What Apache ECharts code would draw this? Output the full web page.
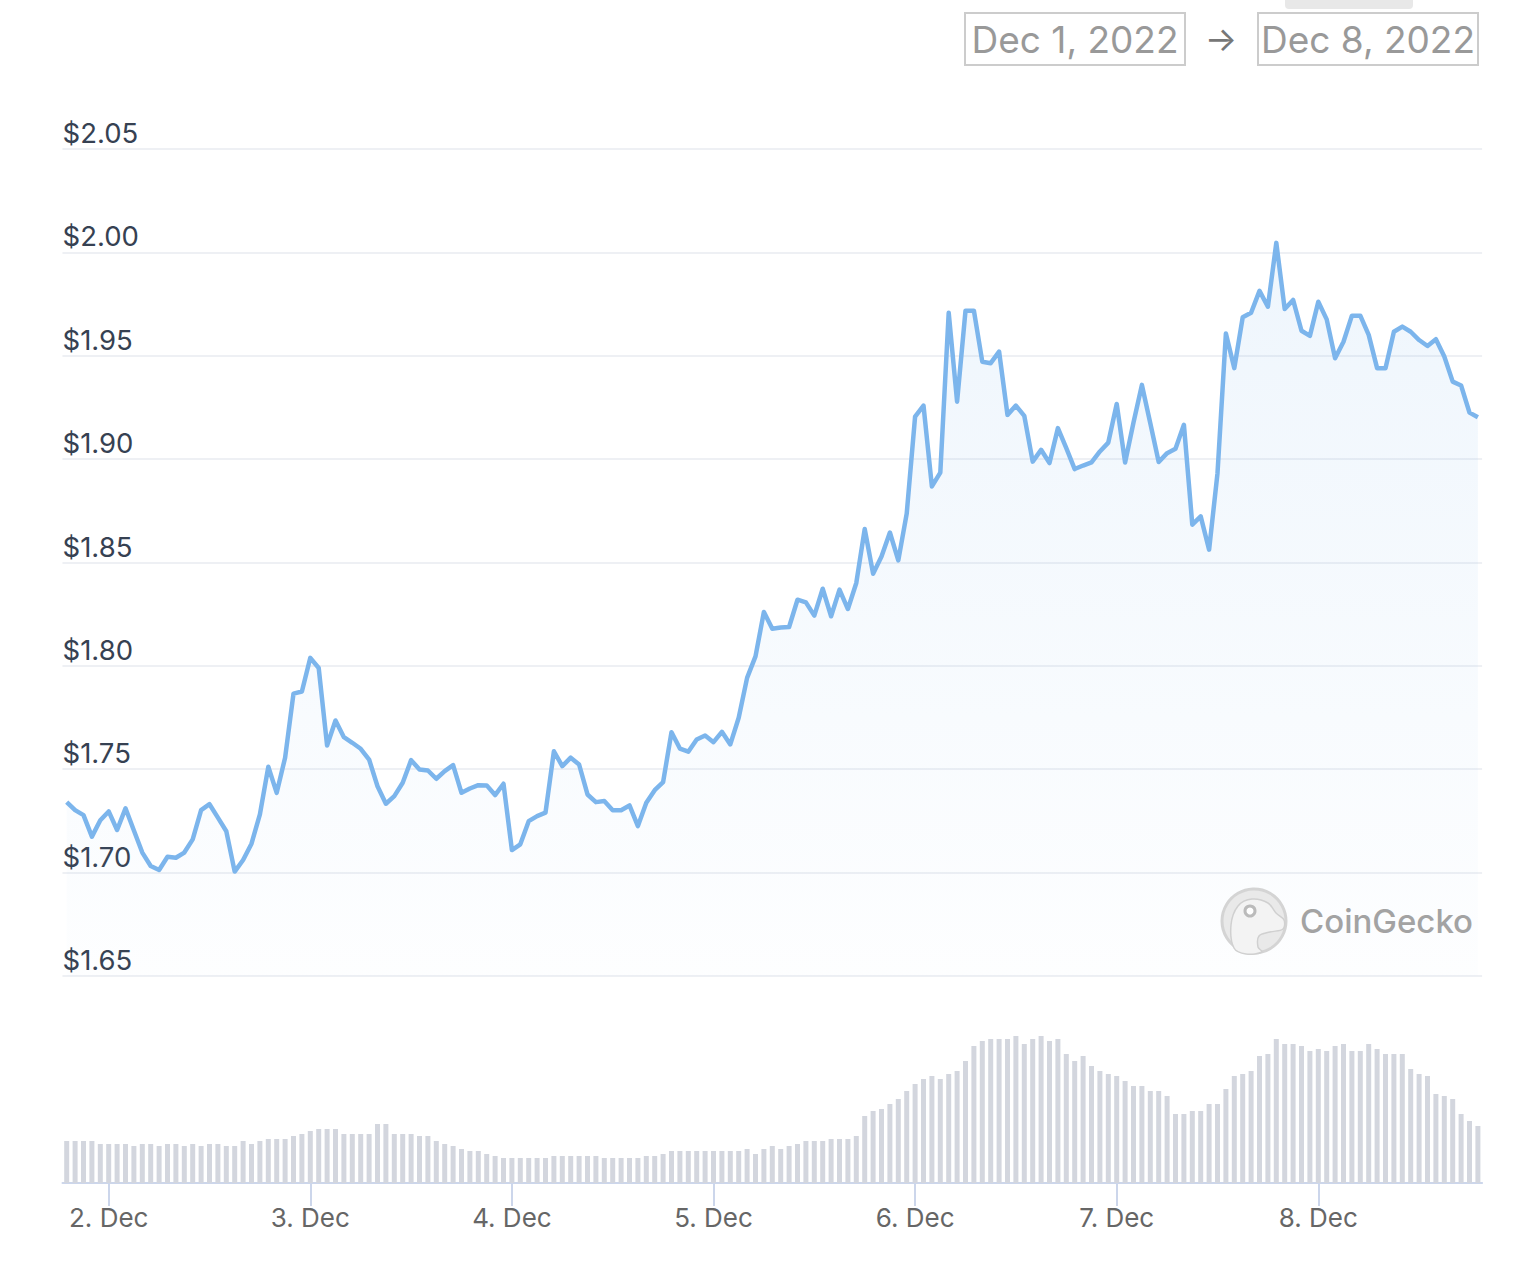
<!DOCTYPE html>
<html><head><meta charset="utf-8">
<script src="https://cdn.jsdelivr.net/npm/echarts@6/dist/echarts.min.js"></script>
<style>html,body{margin:0;padding:0;background:#fff}#c{width:1518px;height:1278px}</style>
</head><body><div id="c"></div>
<script>
// Hourly price (USD), Dec 1 19:00 -> Dec 8 19:00 (UTC)
const prices = [
1.7341,1.7302,1.7278,1.7174,1.7253,1.7296,1.7206,1.7311,1.7204,1.7097,
1.7032,1.7013,1.7077,1.7072,1.7097,1.7161,1.7302,1.7331,1.7266,1.7200,
1.7005,1.7061,1.7140,1.7282,1.7512,1.7386,1.7556,1.7866,1.7876,1.8039,
1.7990,1.7615,1.7736,1.7655,1.7628,1.7599,1.7547,1.7418,1.7333,1.7370,
1.7435,1.7544,1.7499,1.7494,1.7454,1.7491,1.7520,1.7386,1.7407,1.7423,
1.7422,1.7375,1.7430,1.7109,1.7137,1.7249,1.7273,1.7290,1.7587,1.7515,
1.7556,1.7523,1.7378,1.7341,1.7346,1.7302,1.7302,1.7325,1.7225,1.7338,
1.7399,1.7438,1.7679,1.7600,1.7585,1.7644,1.7663,1.7631,1.7681,1.7620,
1.7749,1.7942,1.8046,1.8261,1.8180,1.8186,1.8188,1.8320,1.8307,1.8243,
1.8373,1.8240,1.8369,1.8275,1.8401,1.8662,1.8446,1.8529,1.8645,1.8510,
1.8736,1.9206,1.9259,1.8868,1.8935,1.9708,1.9278,1.9718,1.9718,1.9471,
1.9464,1.9520,1.9214,1.9259,1.9209,1.8988,1.9045,1.8981,1.9150,1.9053,
1.8952,1.8969,1.8984,1.9037,1.9080,1.9267,1.8984,1.9177,1.9359,1.9174,
1.8986,1.9029,1.9050,1.9166,1.8683,1.8723,1.8562,1.8932,1.9608,1.9440,
1.9686,1.9708,1.9814,1.9737,2.0046,1.9726,1.9770,1.9621,1.9596,1.9761,
1.9676,1.9488,1.9568,1.9694,1.9694,1.9601,1.9440,1.9440,1.9616,1.9641,
1.9616,1.9576,1.9547,1.9580,1.9496,1.9375,1.9356,1.9225,1.9203
];
// Hourly volume (relative units)
const volumes = [
42,42,42,42,39,39,39,39,37,39,
39,37,39,39,37,39,37,39,39,37,
37,42,39,42,44,44,44,47,49,52,
54,54,54,49,49,49,49,59,59,49,
49,49,47,47,42,39,37,34,32,32,
29,27,25,25,25,25,25,25,27,27,
27,27,27,27,25,25,25,25,25,27,
27,29,32,32,32,32,32,32,32,32,
32,34,29,34,37,34,37,39,42,42,
42,44,44,44,47,67,72,74,79,84,
92,99,104,107,104,109,112,122,137,142,
144,144,144,147,139,144,147,142,144,129,
122,127,117,112,109,107,102,97,97,92,
92,87,69,69,72,72,79,79,94,107,
109,112,127,129,144,139,139,137,132,134,
132,137,139,132,132,139,134,129,129,129,
114,109,107,89,87,84,69,62,57
];
const startTime = Date.UTC(2022, 11, 1, 19, 0);
const tickLabels = ['2. Dec','3. Dec','4. Dec','5. Dec','6. Dec','7. Dec','8. Dec'];
const dateRange = ['Dec 1, 2022', 'Dec 8, 2022'];

const categories = prices.map((_, i) =>
  new Date(startTime + i * 3600e3).toISOString().slice(0, 16).replace('T', ' '));
const isMidnight = (idx, v) => String(v).endsWith('00:00');

const chart = echarts.init(document.getElementById('c'), null, {renderer: 'svg'});
const FONT = 'Inter, "Noto Sans", sans-serif';
chart.setOption({
  backgroundColor: '#ffffff',
  animation: false,
  grid: [
    {left: 62.5, right: 35.9, top: 149, bottom: 302},
    {left: 62.5, right: 35.9, top: 1023, bottom: 95}
  ],
  xAxis: [
    {type: 'category', gridIndex: 0, data: categories, boundaryGap: true, show: false},
    {type: 'category', gridIndex: 1, data: categories, boundaryGap: true,
     axisLine: {show: true, lineStyle: {color: '#ccd6eb', width: 2}},
     axisTick: {show: true, alignWithLabel: true, interval: isMidnight, length: 23, lineStyle: {color: '#ccd6eb', width: 2}},
     axisLabel: {show: true, interval: isMidnight, color: '#666666', fontSize: 26, fontFamily: FONT, margin: 21,
       formatter: v => tickLabels[Number(v.slice(8, 10)) - 2]}}
  ],
  yAxis: [
    {type: 'value', gridIndex: 0, min: 1.65, max: 2.05, interval: 0.05,
     axisLine: {show: false}, axisTick: {show: false},
     splitLine: {show: true, lineStyle: {color: '#eef0f4', width: 2}},
     axisLabel: {inside: true, margin: 0, verticalAlign: 'bottom', padding: [0, 0, 2, 0],
       color: '#364152', fontSize: 27.5, fontFamily: FONT,
       formatter: v => '$' + v.toFixed(2)}},
    {type: 'value', gridIndex: 1, min: 0, max: 160, show: false}
  ],
  series: [
    {type: 'line', xAxisIndex: 0, yAxisIndex: 0, data: prices, showSymbol: false, symbol: 'none',
     lineStyle: {color: '#7cb5ec', width: 4.5, join: 'round'},
     areaStyle: {origin: 'start', color: {type: 'linear', x: 0, y: 0, x2: 0, y2: 1, colorStops: [
       {offset: 0, color: 'rgba(124,181,236,0.18)'},
       {offset: 1, color: 'rgba(124,181,236,0.02)'}]}},
     z: 3},
    {type: 'bar', xAxisIndex: 1, yAxisIndex: 1, data: volumes, barWidth: 5,
     itemStyle: {color: '#d3d6de'}}
  ],
  graphic: [
    {type: 'rect', shape: {x: 1285, y: -10, width: 128, height: 19, r: 4}, style: {fill: '#e8e8e8'}},
    {type: 'rect', shape: {x: 965, y: 13, width: 220, height: 52}, style: {fill: '#fff', stroke: '#cccccc', lineWidth: 2}},
    {type: 'text', x: 1075, y: 39, style: {text: dateRange[0], fill: '#999999', fontSize: 37, fontFamily: FONT, align: 'center', verticalAlign: 'middle'}},
    {type: 'text', x: 1221, y: 38, style: {text: '→', fill: '#777777', fontSize: 34, fontFamily: FONT, align: 'center', verticalAlign: 'middle'}},
    {type: 'rect', shape: {x: 1258, y: 13, width: 220, height: 52}, style: {fill: '#fff', stroke: '#cccccc', lineWidth: 2}},
    {type: 'text', x: 1368, y: 39, style: {text: dateRange[1], fill: '#999999', fontSize: 37, fontFamily: FONT, align: 'center', verticalAlign: 'middle'}},
    {type: 'circle', z: 100, shape: {cx: 1254, cy: 921, r: 32}, style: {fill: '#e9e9e9', stroke: '#d4d4d4', lineWidth: 3}},
    {type: 'polygon', z: 101, shape: {smooth: 0.35, points: [[1234,948],[1231,925],[1238,906],[1252,899],[1268,903],[1276,913],[1284,920],[1283,929],[1270,932],[1259,936],[1258,947],[1262,952],[1246,954]]},
     style: {fill: '#f3f3f3', stroke: '#d0d0d0', lineWidth: 1.5}},
    {type: 'circle', z: 102, shape: {cx: 1250, cy: 911, r: 5}, style: {fill: '#ffffff', stroke: '#bbbbbb', lineWidth: 3}},
    {type: 'text', z: 100, x: 1300, y: 921, style: {text: 'CoinGecko', fill: '#a3a3a3', fontSize: 33, fontWeight: 500, fontFamily: FONT, align: 'left', verticalAlign: 'middle'}}
  ]
});
</script>
</body></html>
